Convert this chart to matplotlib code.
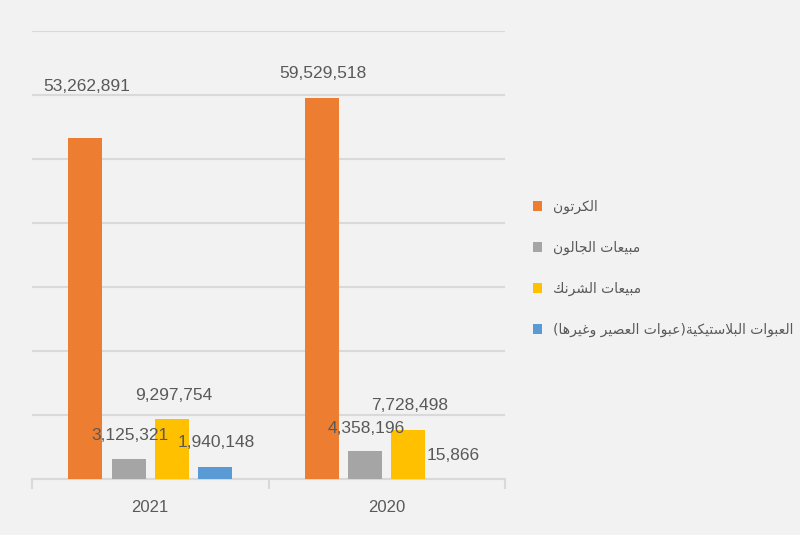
import matplotlib
matplotlib.use('Agg')
import matplotlib.pyplot as plt
from matplotlib.patches import Patch
from matplotlib import font_manager
import numpy as np

# data
years = ['2021', '2020']
series_names = ['الكرتون', 'مبيعات الجالون', 'مبيعات الشرنك',
                'العبوات البلاستيكية(عبوات العصير وغيرها)']
carton = [53262891, 59529518]
gallon = [3125321, 4358196]
shrink = [9297754, 7728498]
plastic = [1940148, 15866]
colors = ['#ED7D31', '#A5A5A5', '#FFC000', '#5B9BD5']

# presentation forms: isolated, final, initial, medial
FORMS = {
    'ا': ('\uFE8D', '\uFE8E', None, None),
    'ب': ('\uFE8F', '\uFE90', '\uFE91', '\uFE92'),
    'ة': ('\uFE93', '\uFE94', None, None),
    'ت': ('\uFE95', '\uFE96', '\uFE97', '\uFE98'),
    'ج': ('\uFE9D', '\uFE9E', '\uFE9F', '\uFEA0'),
    'ر': ('\uFEAD', '\uFEAE', None, None),
    'س': ('\uFEB1', '\uFEB2', '\uFEB3', '\uFEB4'),
    'ش': ('\uFEB5', '\uFEB6', '\uFEB7', '\uFEB8'),
    'ص': ('\uFEB9', '\uFEBA', '\uFEBB', '\uFEBC'),
    'ع': ('\uFEC9', '\uFECA', '\uFECB', '\uFECC'),
    'غ': ('\uFECD', '\uFECE', '\uFECF', '\uFED0'),
    'ك': ('\uFED9', '\uFEDA', '\uFEDB', '\uFEDC'),
    'ل': ('\uFEDD', '\uFEDE', '\uFEDF', '\uFEE0'),
    'م': ('\uFEE1', '\uFEE2', '\uFEE3', '\uFEE4'),
    'ن': ('\uFEE5', '\uFEE6', '\uFEE7', '\uFEE8'),
    'ه': ('\uFEE9', '\uFEEA', '\uFEEB', '\uFEEC'),
    'و': ('\uFEED', '\uFEEE', None, None),
    'ي': ('\uFEF1', '\uFEF2', '\uFEF3', '\uFEF4'),
}
MIRROR = {'(': ')', ')': '('}


def shape_arabic(text):
    '''crude arabic shaping + reversal for display'''
    chars = list(text)
    out = []
    i = 0
    prev_joins = False
    while i < len(chars):
        c = chars[i]
        if c not in FORMS:
            out.append(MIRROR.get(c, c))
            prev_joins = False
            i += 1
            continue
        # lam-alef ligature
        if c == 'ل' and i + 1 < len(chars) and chars[i + 1] == 'ا':
            out.append('\uFEFC' if prev_joins else '\uFEFB')
            prev_joins = False
            i += 2
            continue
        iso, fin, ini, med = FORMS[c]
        nxt = chars[i + 1] if i + 1 < len(chars) else None
        joins_next = ini is not None and nxt in FORMS
        if prev_joins and joins_next:
            g = med
        elif prev_joins:
            g = fin
        elif joins_next:
            g = ini
        else:
            g = iso
        out.append(g)
        prev_joins = joins_next
        i += 1
    return ''.join(reversed(out))


# narrow font for numbers if there is one
num_font = 'Liberation Sans'
num_size = 12.5
for f in font_manager.fontManager.ttflist:
    if f.name == 'Liberation Sans Narrow':
        num_font = f.name
        num_size = 14.5
        break

bg = '#F2F2F2'
grid_c = '#D9D9D9'
txt_c = '#595959'

fig = plt.figure(figsize=(8, 5.35), dpi=100, facecolor=bg)
ax = fig.add_axes([32 / 800, 56 / 535, 473 / 800, 448 / 535], facecolor=bg)

x = np.arange(len(years))
step = 0.183
width = 0.144
all_series = [carton, gallon, shrink, plastic]
# label offsets above the bar top, in points
label_off = [[37, 18], [17, 16], [17, 17], [17, 17]]

for k, vals in enumerate(all_series):
    xs = x + (k - 1.5) * step
    ax.bar(xs, vals, width, color=colors[k], zorder=3)
    for j, v in enumerate(vals):
        ax.annotate(f'{v:,}', (xs[j], v), xytext=(1, label_off[k][j]),
                    textcoords='offset points', ha='center', va='center',
                    fontsize=num_size, color=txt_c, family=num_font, zorder=4)

ax.set_xlim(-0.5, 1.5)
ax.set_ylim(0, 70000000)
ax.set_yticks(np.arange(0, 70000001, 10000000))
ax.yaxis.grid(True, color=grid_c, linewidth=1.5, zorder=0)
ax.tick_params(axis='y', length=0, labelleft=False)
for s in ['left', 'right', 'top']:
    ax.spines[s].set_visible(False)
ax.spines['bottom'].set_color(grid_c)
ax.spines['bottom'].set_linewidth(1.5)

ax.set_xticks(x)
ax.set_xticklabels(years, fontsize=num_size - 0.5, color=txt_c, family=num_font)
ax.tick_params(axis='x', which='major', length=0, pad=15)
ax.set_xticks([-0.5, 0.5, 1.5], minor=True)
ax.tick_params(axis='x', which='minor', length=7, width=1.5, color=grid_c)

handles = [Patch(facecolor=c, edgecolor='none') for c in colors]
labels = [shape_arabic(n) for n in series_names]
leg = fig.legend(handles, labels, loc='upper left',
                 bbox_to_anchor=(520 / 800, 1 - 187 / 535),
                 frameon=False, handlelength=0.7, handleheight=0.7,
                 handletextpad=0.8, labelspacing=1.93,
                 prop={'family': 'DejaVu Sans', 'size': 10})
for t in leg.get_texts():
    t.set_color(txt_c)

fig.savefig('out.png', dpi=100, facecolor=bg)
